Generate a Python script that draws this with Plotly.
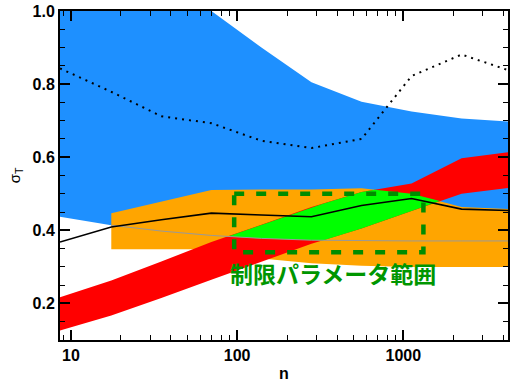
import numpy as np
import plotly.graph_objects as go

# sample sizes (doubling grid)
n = [8.6, 17.5, 35, 70, 140, 280, 560, 1120, 2240, 4480]

# wide blue band
blue_hi = [1.0, 1.0, 1.0, 1.0, 0.90, 0.805, 0.752, 0.725, 0.706, 0.697]
blue_lo = [0.437, 0.414, 0.398, 0.386, 0.378, 0.373, 0.371, 0.371, 0.371, 0.371]

# orange band (starts at the second grid point)
orange_n = n[1:]
orange_hi = [0.447, 0.478, 0.510, 0.512, 0.512, 0.515, 0.500, 0.464, 0.458]
orange_lo = [0.348, 0.348, 0.348, 0.323, 0.310, 0.303, 0.300, 0.300, 0.300]

# red band
red_hi = [0.217, 0.263, 0.315, 0.368, 0.415, 0.464, 0.505, 0.528, 0.597, 0.615]
red_lo = [0.126, 0.167, 0.215, 0.265, 0.315, 0.363, 0.405, 0.453, 0.500, 0.517]

# region where all three bands overlap
green_n = [88, 140, 280, 328, 560, 675, 1120, 1660]
green_hi = [0.383, 0.415, 0.464, 0.473, 0.505, 0.511, 0.500, 0.480]
green_lo = [0.383, 0.378, 0.373, 0.3725, 0.405, 0.418, 0.453, 0.480]

# curves
black_line = [0.368, 0.409, 0.429, 0.447, 0.442, 0.437, 0.468, 0.487, 0.458, 0.454]
dotted_line = [0.843, 0.779, 0.712, 0.693, 0.645, 0.625, 0.650, 0.822, 0.881, 0.835]

# constrained parameter box
box_n = [96, 1320]
box_sigma = [0.34, 0.50]
box_label = "制限パラメータ範囲"

x_ticks = [10, 100, 1000]
x_ticktext = ["10", "100", "1000"]
y_ticks = [0.2, 0.4, 0.6, 0.8, 1.0]
y_ticktext = ["0.2", "0.4", "0.6", "0.8", "1.0"]


def band(xs, hi, lo, color):
    return go.Scatter(
        x=list(xs) + list(xs)[::-1],
        y=list(hi) + list(lo)[::-1],
        fill="toself", fillcolor=color, mode="lines",
        line=dict(width=0, color=color), hoverinfo="skip", showlegend=False,
    )


fig = go.Figure()
fig.add_trace(band(n, blue_hi, blue_lo, "#1E90FF"))
fig.add_trace(band(orange_n, orange_hi, orange_lo, "#FFA500"))
fig.add_trace(band(n, red_hi, red_lo, "#FF0000"))
fig.add_trace(band(green_n, green_hi, green_lo, "#00FF00"))

# lower edge of the blue band, shown through the other bands
fig.add_trace(go.Scatter(x=n[1:], y=blue_lo[1:], mode="lines",
                         line=dict(color="#999999", width=1), showlegend=False))
fig.add_trace(go.Scatter(x=n, y=black_line, mode="lines",
                         line=dict(color="black", width=1.6), showlegend=False))
fig.add_trace(go.Scatter(x=n, y=dotted_line, mode="lines",
                         line=dict(color="black", width=2, dash="2px,5px"),
                         showlegend=False))

# dashed box
fig.add_trace(go.Scatter(
    x=[box_n[0], box_n[1], box_n[1], box_n[0], box_n[0]],
    y=[box_sigma[1], box_sigma[1], box_sigma[0], box_sigma[0], box_sigma[1]],
    mode="lines", line=dict(color="#008C00", width=4.5, dash="10px,12px"),
    showlegend=False,
))

fig.add_annotation(
    x=np.log10(375), y=0.282, xref="x", yref="y", text=box_label,
    showarrow=False,
    font=dict(family="Noto Sans CJK JP", size=23, color="#009600", weight="bold"),
)

tick_font = dict(family="Liberation Sans", size=16, color="black", weight="bold")

x_minor = [9] + [k * 10 for k in range(2, 10)] + [k * 100 for k in range(2, 10)] + [2000, 3000, 4000]

fig.update_xaxes(
    type="log", range=[np.log10(8.6), np.log10(4260)],
    tickmode="array", tickvals=x_ticks, ticktext=x_ticktext,
    ticks="inside", ticklen=10, tickwidth=1.5, tickcolor="black",
    minor=dict(ticks="inside", ticklen=5, tickwidth=1.2, tickcolor="black",
               tickmode="array", tickvals=x_minor, showgrid=False),
    showline=True, linewidth=2, linecolor="black", mirror="allticks",
    showgrid=False, zeroline=False, tickfont=tick_font,
    title=dict(text="n", font=dict(family="Liberation Sans", size=16,
                                   color="black", weight="bold"), standoff=5),
)
fig.update_yaxes(
    range=[0.1, 1.0],
    tickmode="array", tickvals=y_ticks, ticktext=y_ticktext,
    ticks="inside", ticklen=10, tickwidth=1.5, tickcolor="black",
    minor=dict(ticks="inside", ticklen=5, tickwidth=1.2, tickcolor="black",
               dtick=0.05, tick0=0, showgrid=False),
    showline=True, linewidth=2, linecolor="black", mirror="allticks",
    showgrid=False, zeroline=False, tickfont=tick_font,
    title=dict(text="σ<sub>T</sub>", font=dict(family="Liberation Sans", size=15,
                                                color="black"), standoff=8),
)

fig.update_layout(
    width=511, height=385,
    margin=dict(l=60, r=1, t=11, b=45),
    plot_bgcolor="white", paper_bgcolor="white",
    showlegend=False,
)

fig.write_html("out.html")
